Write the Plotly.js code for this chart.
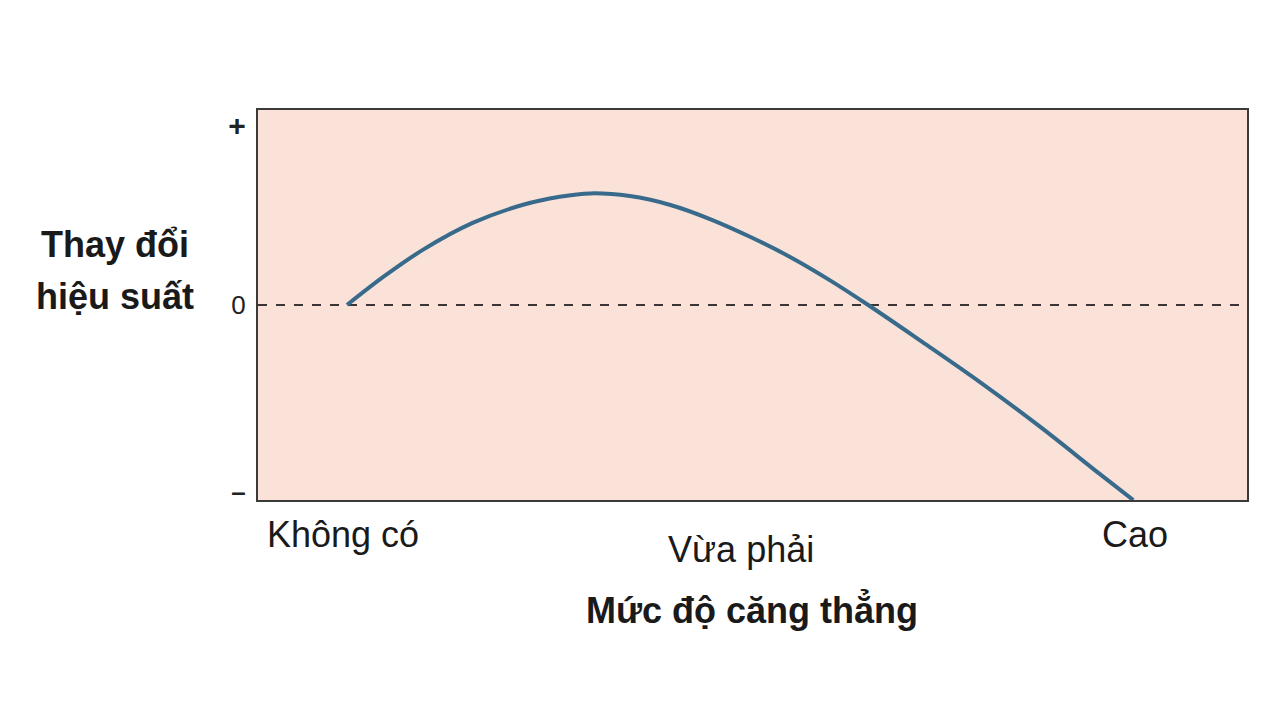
<!DOCTYPE html>
<html>
<head>
<meta charset="utf-8">
<script src="https://cdn.plot.ly/plotly-3.0.1.min.js"></script>
<style>html,body{margin:0;padding:0;background:#fff;}#chart{width:1280px;height:720px;}</style>
</head>
<body>
<div id="chart"></div>
<script>
// Stress level (x, arbitrary units 0-10) vs change in performance (y, arbitrary units)
const stressLevel = [0.90, 1.28, 1.67, 2.17, 2.68, 3.05, 3.36, 3.76, 4.17, 4.57, 4.98, 5.38, 5.78, 6.17, 6.69, 7.30, 7.91, 8.51, 8.85];
const performanceChange = [0.000, 0.163, 0.311, 0.461, 0.563, 0.608, 0.627, 0.612, 0.562, 0.483, 0.382, 0.270, 0.140, 0.000, -0.197, -0.433, -0.685, -0.949, -1.096];

const categories = ['Không có', 'Vừa phải', 'Cao'];
const categoryX = [0.86, 4.88, 8.87];

const yTickVals = [-1.05, 0, 1];
const yTickText = ['<b>–</b>', '0', '<b><span style="font-size:30px">+</span></b>'];

const xTitle = 'Mức độ căng thẳng';
const yTitleLines = ['Thay đổi', 'hiệu suất'];

const FONT = 'Liberation Sans, Arial, Helvetica, sans-serif';
const catY = [-0.0897, -0.128, -0.0897];

const annotations = categories.map((c, i) => ({
  text: c, x: categoryX[i], xref: 'x', y: catY[i], yref: 'paper',
  xanchor: 'center', yanchor: 'middle', showarrow: false,
  font: {family: FONT, size: 36, color: '#1a1a1a'}
}));
annotations.push({
  text: '<b>' + xTitle + '</b>', x: 0.4995, xref: 'paper', y: -0.282, yref: 'paper',
  xanchor: 'center', yanchor: 'middle', showarrow: false,
  font: {family: FONT, size: 36, color: '#1a1a1a'}
});
const yTitleY = [0.655, 0.522];
yTitleLines.forEach((t, i) => annotations.push({
  text: '<b>' + t + '</b>', x: -0.1446, xref: 'paper', y: yTitleY[i], yref: 'paper',
  xanchor: 'center', yanchor: 'middle', showarrow: false,
  font: {family: FONT, size: 36, color: '#1a1a1a'}
}));

const trace = {
  x: stressLevel, y: performanceChange, type: 'scatter', mode: 'lines',
  line: {color: '#386a8c', width: 4, shape: 'spline', smoothing: 1},
  hoverinfo: 'skip', cliponaxis: true
};

const layout = {
  width: 1280, height: 720,
  margin: {l: 258, r: 33, t: 110, b: 220},
  paper_bgcolor: '#ffffff', plot_bgcolor: '#fbe2d9',
  showlegend: false,
  xaxis: {range: [0, 10], showticklabels: false, ticks: '', showgrid: false, zeroline: false,
          showline: true, mirror: true, linecolor: '#3a3a3a', linewidth: 2, fixedrange: true},
  yaxis: {range: [-1.0955, 1.0955], tickvals: yTickVals, ticktext: yTickText, ticks: '',
          showgrid: false, zeroline: false, showline: true, mirror: true,
          linecolor: '#3a3a3a', linewidth: 2, ticklabelstandoff: 5,
          tickfont: {family: FONT, size: 26, color: '#222'}, fixedrange: true},
  shapes: [{type: 'line', xref: 'paper', x0: 0, x1: 1, yref: 'y', y0: 0, y1: 0,
            line: {color: '#3d3535', width: 2, dash: 'dash'}, layer: 'below'}],
  annotations: annotations
};

Plotly.newPlot('chart', [trace], layout, {displayModeBar: false, staticPlot: true});
</script>
</body>
</html>
